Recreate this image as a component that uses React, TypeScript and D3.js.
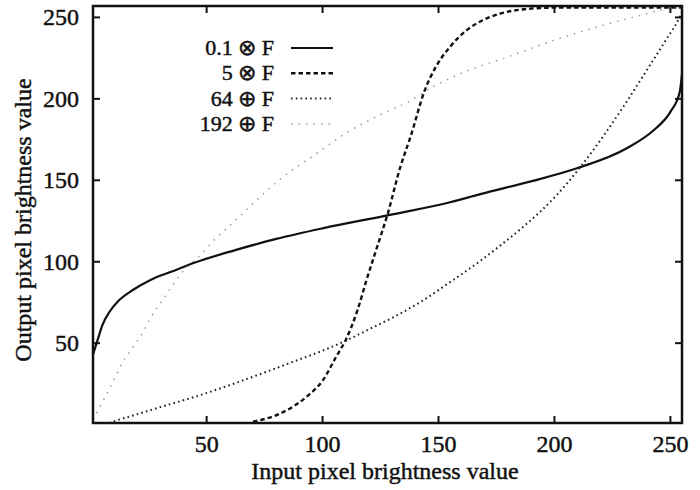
import React from "react";
import * as d3 from "d3";

// 0.1 ⊗ F (solid)
const mulLowX = [1, 3, 5, 8, 12, 18, 26, 35, 45, 62, 80, 100, 128, 155, 168, 189, 210, 231, 243, 250, 254, 255];
const mulLowY = [43, 52, 61, 69, 76, 82.5, 89, 94, 99.5, 107, 114, 120.5, 128.5, 136.5, 141.5, 149, 157.5, 169.5, 181, 192, 204, 215];

// 5 ⊗ F (dashed)
const mulHighX = [70, 82, 93, 100, 106, 110, 115, 119, 123.5, 128, 133.5, 138, 144, 149, 155, 162, 171, 177, 187, 200, 220, 255];
const mulHighY = [1.8, 7, 17, 27, 42, 52, 70, 89, 109, 129, 158, 177, 205, 220, 232, 242, 249.5, 252.5, 255, 256, 256, 256];

// 64 ⊕ F (dotted)
const addLowX = [8, 11, 18, 32, 47, 61, 74, 89, 100, 110, 120, 132, 143, 155, 168, 178, 187, 201, 210, 221, 231, 240, 248, 254, 255];
const addLowY = [1, 2.5, 5.5, 11.6, 18, 24.8, 31.5, 39.5, 45.4, 51.5, 58.5, 67, 76, 87.5, 100.5, 111.5, 122, 141, 156, 177, 198, 218, 236, 250, 253];

// 192 ⊕ F (light dotted)
const addHighX = [1, 4, 7, 10, 13.5, 18, 23, 26, 32, 38, 44, 48, 53, 61, 82, 99, 109, 123, 138, 146, 162, 177, 201, 218, 235, 250, 255];
const addHighY = [3, 11, 19, 27.4, 37.6, 47, 58, 66, 78.5, 91, 100, 105, 113, 123.5, 151, 168, 178, 189, 199, 206, 217, 224.3, 236.5, 244, 250.5, 255.5, 256];

const xTicks = [50, 100, 150, 200, 250];
const yTicks = [50, 100, 150, 200, 250];
const legendLabels = ["0.1 ⊗ F", "5 ⊗ F", "64 ⊕ F", "192 ⊕ F"];

const W = 700, H = 490;
const L = 93, R = 682, T = 6, B = 423;

export default function App() {
  const x = d3.scaleLinear().domain([1, 255]).range([L, R]);
  const y = d3.scaleLinear().domain([1, 257]).range([B, T]);
  const line = d3
    .line<[number, number]>()
    .x((d) => x(d[0]))
    .y((d) => y(d[1]))
    .curve(d3.curveMonotoneX);
  const zip = (a: number[], b: number[]) => a.map((v, i) => [v, b[i]] as [number, number]);

  const series = [
    { pts: zip(mulLowX, mulLowY), stroke: "#111", width: 2.2, dash: undefined as string | undefined },
    { pts: zip(mulHighX, mulHighY), stroke: "#111", width: 2.4, dash: "4.5,3" },
    { pts: zip(addLowX, addLowY), stroke: "#222", width: 2, dash: "1.6,3.2" },
    { pts: zip(addHighX, addHighY), stroke: "#9a9a9a", width: 1.5, dash: "1.5,6" },
  ];

  const font = "'Liberation Serif', 'Times New Roman', serif";
  const tickLen = 7;
  const txt = { fill: "#111", stroke: "#111", strokeWidth: 0.45 };

  return (
    <svg width={W} height={H} style={{ position: "absolute", left: 0, top: 0, background: "#fff" }} fontFamily={font}>
      <defs>
        <clipPath id="plot">
          <rect x={L} y={T} width={R - L} height={B - T} />
        </clipPath>
      </defs>
      <rect x={0} y={0} width={W} height={H} fill="#fff" />
      <g clipPath="url(#plot)">
        {series.map((s, i) => (
          <path key={i} d={line(s.pts) || ""} fill="none" stroke={s.stroke} strokeWidth={s.width} strokeDasharray={s.dash} />
        ))}
      </g>
      {/* frame */}
      <rect x={L} y={T} width={R - L} height={B - T} fill="none" stroke="#111" strokeWidth={2.5} />
      {/* ticks */}
      {xTicks.map((t) => (
        <g key={"x" + t}>
          <line x1={x(t)} x2={x(t)} y1={B} y2={B - tickLen} stroke="#111" strokeWidth={2} />
          <line x1={x(t)} x2={x(t)} y1={T} y2={T + tickLen} stroke="#111" strokeWidth={2} />
          <text x={x(t)} y={452} textAnchor="middle" fontSize={24} {...txt}>
            {t}
          </text>
        </g>
      ))}
      {yTicks.map((t) => (
        <g key={"y" + t}>
          <line x1={L} x2={L + tickLen} y1={y(t)} y2={y(t)} stroke="#111" strokeWidth={2} />
          <line x1={R} x2={R - tickLen} y1={y(t)} y2={y(t)} stroke="#111" strokeWidth={2} />
          <text x={79} y={y(t) + 8} textAnchor="end" fontSize={24} {...txt}>
            {t}
          </text>
        </g>
      ))}
      {/* axis titles */}
      <text x={385} y={479} textAnchor="middle" fontSize={24} {...txt}>
        Input pixel brightness value
      </text>
      <text transform={`translate(31,${220}) rotate(-90)`} textAnchor="middle" fontSize={24} {...txt}>
        Output pixel brightness value
      </text>
      {/* legend */}
      {legendLabels.map((lab, i) => {
        const ly = 48 + i * 25.3;
        const s = series[i];
        return (
          <g key={lab}>
            <text x={274} y={ly + 7} textAnchor="end" fontSize={22} {...txt}>
              {lab}
            </text>
            <line x1={291} x2={333} y1={ly} y2={ly} stroke={s.stroke} strokeWidth={s.width} strokeDasharray={s.dash} />
          </g>
        );
      })}
    </svg>
  );
}
